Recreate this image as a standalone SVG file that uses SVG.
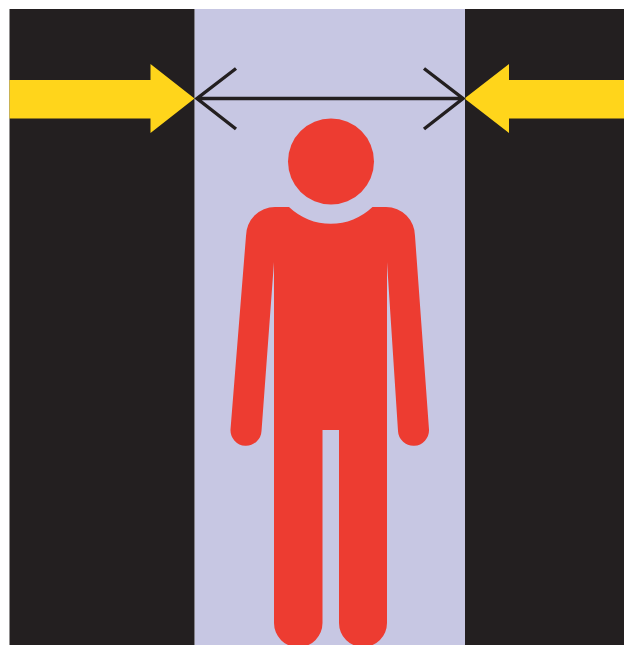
<svg xmlns="http://www.w3.org/2000/svg" width="624" height="645" viewBox="0 0 624 645">
<style>
.wall{fill:#231f20}
.gap{fill:#c7c7e3}
.push{fill:#ffd51b}
.person{fill:#ed3c31}
.dim{fill:none;stroke:#231f20;stroke-width:3.400}
</style>
<rect width="624" height="645" fill="#fff"/>
<g id="passage"><rect class="gap" x="194.500" y="9" width="270.500" height="636"/></g>
<g id="wall-left"><rect class="wall" x="9.500" y="9" width="185" height="636"/></g>
<g id="wall-right"><rect class="wall" x="465" y="9" width="159" height="636"/></g>
<g id="connectors">
<path class="push" d="M9.500 80H150.500V64L194.500 98.500L150.500 133V118.500H9.500Z"/>
<path class="push" d="M624 80H509V64L464.500 98.500L509 133V118.500H624Z"/>
<path class="dim" d="M197 98.500H463M236 68.500L197 98.500L236 129M424 68.500L463 98.500L424 129"/>
</g>
<g id="person">
<circle class="person" cx="331" cy="161.500" r="43"/>
<path class="person" d="M289 207A60.500 60.500 0 0 0 372.500 207H386A29 29 0 0 1 415 236L429 429.500A15.500 15.500 0 0 1 398 431L387 262V623A24 24 0 0 1 339 623V430H322.500V623A24.250 24.250 0 0 1 274 623V262L261.500 431A15.500 15.500 0 0 1 230.500 429.500L246 236A29 29 0 0 1 275 207Z"/>
</g>
</svg>
